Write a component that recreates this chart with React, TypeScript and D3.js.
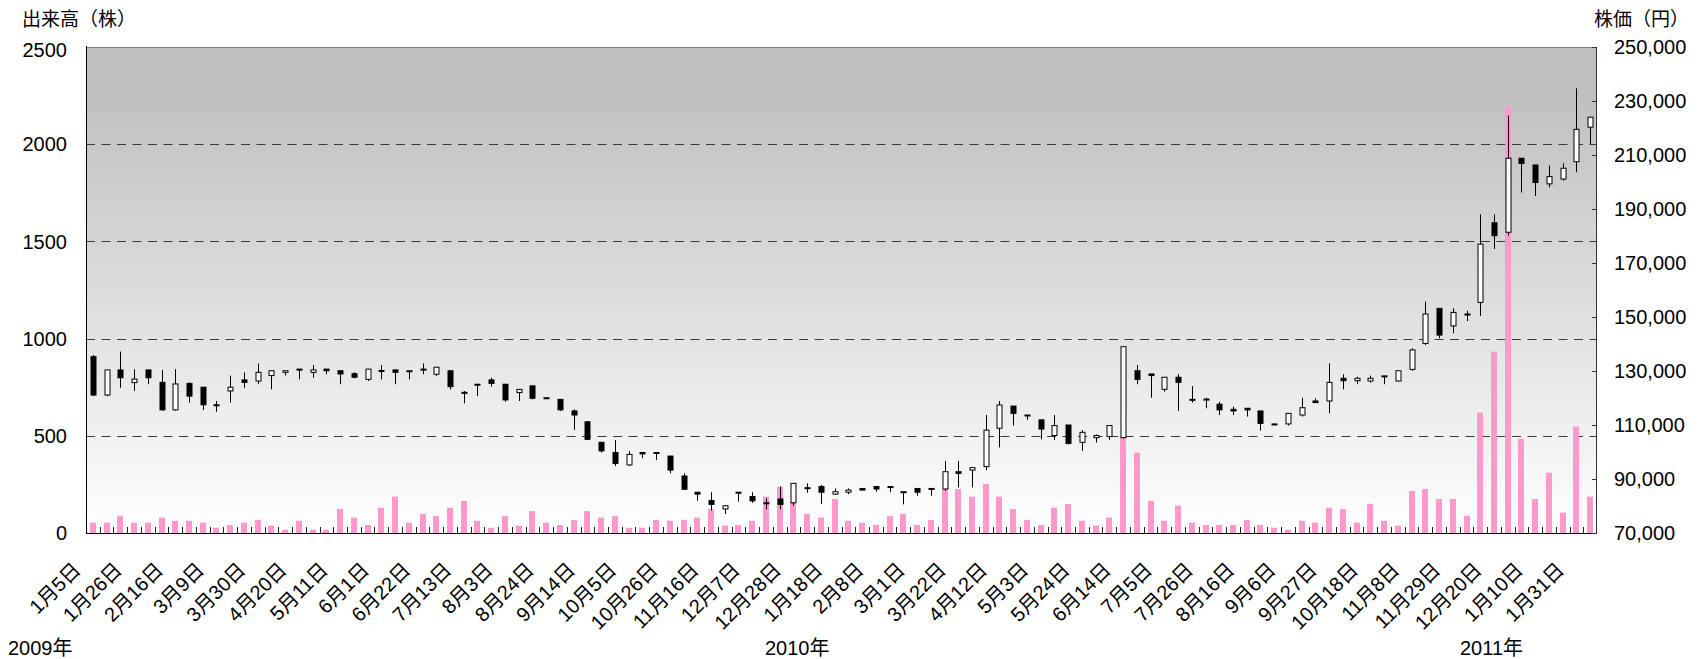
import React from "react";
import * as d3 from "d3";

// Weekly candles for the stock, 2009-01-05 .. 2011-02-07 (110 weeks)
const weekStarts: Date[] = d3.timeMonday.range(new Date(2009, 0, 5), new Date(2011, 1, 8));

const openPrices = [
  135300, 121100, 130400, 125700, 130400, 125800, 115600, 125400, 124000, 117500,
  122600, 126700, 126300, 128300, 129500, 130700, 129500, 130700, 130100, 129000,
  126900, 130100, 130400, 130100, 130700, 128800, 130100, 122100, 125100, 126700,
  125100, 122000, 124500, 120100, 119500, 115200, 111200, 103600, 99800, 95200,
  99800, 99800, 98500, 91100, 85100, 82000, 78900, 85100, 83500, 81200,
  82600, 81200, 86800, 87200, 84400, 85100, 86500, 87200, 87200, 85300,
  86500, 86500, 86300, 92700, 93300, 94600, 108800, 117000, 113700, 111900,
  106100, 110000, 103600, 105300, 105700, 105300, 130100, 128900, 123200, 127700,
  119500, 119600, 117700, 115800, 116200, 115200, 110400, 110400, 113700, 118900,
  118900, 127300, 126400, 126300, 128200, 126300, 130600, 140200, 153200, 146700,
  151100, 155400, 184900, 181400, 208800, 206300, 199300, 201100, 207500, 220300,
];
const highPrices = [
  135900, 130400, 137200, 130700, 130400, 130400, 130700, 125800, 124000, 118900,
  128300, 129500, 132800, 130100, 130100, 130700, 132200, 130700, 130100, 129500,
  130700, 132200, 130400, 130100, 132800, 131400, 130100, 122600, 125100, 127500,
  125100, 123200, 124500, 120100, 119500, 115800, 111200, 103600, 104400, 100400,
  99800, 99800, 98500, 92100, 85100, 85100, 80100, 85100, 85100, 82800,
  87200, 88400, 88400, 87800, 86500, 86500, 86500, 87200, 87200, 85300,
  86500, 86500, 96700, 96700, 94200, 113700, 118900, 117000, 113700, 111900,
  113700, 110000, 108100, 106500, 109800, 139000, 132200, 128900, 127700, 128900,
  124400, 120100, 118600, 116800, 116200, 115200, 110400, 114300, 120100, 119900,
  132800, 128800, 127900, 128300, 128200, 130100, 138400, 155700, 153200, 153200,
  152300, 188000, 188000, 224600, 208800, 206300, 206100, 206900, 234700, 224000,
];
const lowPrices = [
  120700, 120700, 123800, 122600, 125100, 115300, 115300, 118300, 115600, 114900,
  118300, 123800, 125100, 123200, 128300, 126900, 127500, 128800, 125100, 127300,
  126300, 126900, 125100, 126900, 128800, 128200, 123200, 118000, 120700, 124200,
  118600, 118900, 119500, 119600, 115200, 108200, 104400, 99800, 94800, 94800,
  97700, 97000, 92100, 85900, 81900, 78300, 77000, 81600, 81200, 78800,
  78800, 80100, 84900, 80700, 84100, 84400, 85900, 85300, 85100, 80600,
  83800, 83800, 85700, 86900, 86900, 93300, 101700, 109800, 111900, 104700,
  104400, 102800, 100400, 103500, 104400, 105100, 125100, 120100, 122300, 115200,
  118300, 116200, 113700, 113700, 113100, 107900, 110000, 109800, 113100, 118300,
  114300, 123200, 125100, 125700, 125100, 126100, 130100, 139600, 142100, 144000,
  148500, 150400, 175200, 180100, 196100, 194800, 198000, 200500, 203600, 214000,
];
const closePrices = [
  121100, 130400, 127500, 127000, 127500, 115600, 125200, 120700, 117500, 117200,
  124000, 125800, 129500, 130100, 130100, 130700, 130400, 130100, 128900, 127700,
  130700, 130200, 129500, 130100, 130700, 131400, 124200, 122100, 125100, 125400,
  119300, 123200, 119900, 120100, 115600, 113700, 104700, 100400, 95800, 99100,
  99300, 99800, 93300, 86200, 84400, 80600, 80100, 85100, 81900, 81200,
  80600, 88400, 86800, 85100, 85300, 85900, 85900, 86300, 87200, 85300,
  85100, 86500, 92700, 92100, 94200, 108100, 117400, 114300, 113700, 108500,
  109800, 103200, 107300, 106100, 109800, 139000, 126900, 128300, 127700, 125800,
  119500, 119600, 115600, 115200, 115600, 110600, 110400, 114300, 116400, 118300,
  125800, 126400, 127300, 127300, 128200, 130100, 137800, 151100, 143300, 151700,
  151100, 177000, 180100, 208800, 206900, 199800, 202000, 205100, 219500, 224000,
];
const volumes = [
  53, 53, 87, 53, 53, 79, 63, 63, 53, 27,
  41, 53, 67, 38, 17, 63, 17, 17, 123, 79,
  41, 130, 187, 53, 98, 87, 130, 165, 63, 27,
  87, 38, 113, 53, 41, 67, 113, 79, 87, 27,
  27, 67, 63, 67, 79, 123, 38, 41, 63, 187,
  238, 156, 98, 79, 175, 63, 53, 41, 87, 98,
  41, 67, 226, 226, 187, 252, 187, 123, 67, 41,
  130, 149, 63, 38, 79, 495, 413, 165, 63, 141,
  53, 41, 41, 41, 67, 41, 27, 17, 63, 53,
  130, 123, 53, 149, 63, 38, 216, 226, 175, 175,
  89, 619, 933, 2193, 484, 175, 310, 105, 547, 187,
];

// Every third week carries a date label
const tickLabels = [
  "1月5日", "1月26日", "2月16日", "3月9日", "3月30日", "4月20日", "5月11日", "6月1日",
  "6月22日", "7月13日", "8月3日", "8月24日", "9月14日", "10月5日", "10月26日", "11月16日",
  "12月7日", "12月28日", "1月18日", "2月8日", "3月1日", "3月22日", "4月12日", "5月3日",
  "5月24日", "6月14日", "7月5日", "7月26日", "8月16日", "9月6日", "9月27日", "10月18日",
  "11月8日", "11月29日", "12月20日", "1月10日", "1月31日",
];
const volumeTicks = [0, 500, 1000, 1500, 2000, 2500];
const priceTicks = [70000, 90000, 110000, 130000, 150000, 170000, 190000, 210000, 230000, 250000];
const yearLabels = ["2009年", "2010年", "2011年"];

const W = 1707;
const H = 659;
const plot = { left: 86, right: 1597, top: 47, bottom: 533 };
const FONT = "'Liberation Sans', Arial, 'Noto Sans CJK JP', sans-serif";

export default function App() {
  const n = openPrices.length;
  const x = d3
    .scaleBand<number>()
    .domain(d3.range(n))
    .range([plot.left, plot.right])
    .padding(0);
  const step = x.step();
  const cx = (i: number) => (x(i) as number) + step / 2;
  const yVol = d3.scaleLinear().domain([0, 2500]).range([plot.bottom, plot.top]);
  const yPrice = d3.scaleLinear().domain([70000, 250000]).range([plot.bottom, plot.top]);

  const barW = 6;
  const bodyW = 5;
  const yearX = [8, 765, 1460];

  return (
    <svg
      width={W}
      height={H}
      style={{ position: "absolute", left: 0, top: 0, display: "block", background: "#ffffff" }}
      fontFamily={FONT}
    >
      <defs>
        <linearGradient id="plotBg" x1="0" y1="0" x2="0" y2="1">
          <stop offset="0" stopColor="#c0c0c0" />
          <stop offset="0.1" stopColor="#c0c0c0" />
          <stop offset="1" stopColor="#ffffff" />
        </linearGradient>
      </defs>

      {/* plot background */}
      <rect
        x={plot.left}
        y={plot.top}
        width={plot.right - plot.left}
        height={plot.bottom - plot.top}
        fill="url(#plotBg)"
      />

      {/* dashed volume gridlines */}
      {volumeTicks
        .filter((v) => v > 0 && v < 2500)
        .map((v) => (
          <line
            key={"g" + v}
            x1={plot.left}
            x2={plot.right}
            y1={Math.round(yVol(v)) + 0.5}
            y2={Math.round(yVol(v)) + 0.5}
            stroke="#3a3a3a"
            strokeWidth={1}
            strokeDasharray="9,6.5"
          />
        ))}

      {/* volume bars */}
      {volumes.map((v, i) => (
        <rect
          key={"v" + i}
          x={Math.round(cx(i) - barW / 2)}
          y={yVol(v)}
          width={barW}
          height={plot.bottom - yVol(v)}
          fill="#ff99cc"
        />
      ))}

      {/* candles */}
      {openPrices.map((o, i) => {
        const c = closePrices[i];
        const up = c >= o;
        const xc = Math.round(cx(i)) + 0.5;
        const yTop = yPrice(Math.max(o, c));
        const yBot = yPrice(Math.min(o, c));
        const h = Math.max(1, yBot - yTop);
        return (
          <g key={"c" + i}>
            <line
              x1={xc}
              x2={xc}
              y1={yPrice(highPrices[i])}
              y2={yPrice(lowPrices[i])}
              stroke="#000"
              strokeWidth={1}
            />
            <rect
              x={xc - bodyW / 2}
              y={yTop}
              width={bodyW}
              height={h}
              fill={up ? "#ffffff" : "#000000"}
              stroke="#000"
              strokeWidth={1}
            />
          </g>
        );
      })}

      {/* frame */}
      <line x1={plot.left} x2={plot.right} y1={plot.top + 0.5} y2={plot.top + 0.5} stroke="#808080" />
      <line x1={plot.right - 0.5} x2={plot.right - 0.5} y1={plot.top} y2={plot.bottom} stroke="#333" />
      <line x1={plot.left + 0.5} x2={plot.left + 0.5} y1={plot.top - 1} y2={plot.bottom} stroke="#000" />
      <line x1={plot.left} x2={plot.right} y1={plot.bottom + 0.5} y2={plot.bottom + 0.5} stroke="#000" />

      {/* category ticks between weeks */}
      {d3.range(1, n).map((i) => (
        <line
          key={"t" + i}
          x1={Math.round(x(i) as number) + 0.5}
          x2={Math.round(x(i) as number) + 0.5}
          y1={plot.bottom - 6}
          y2={plot.bottom}
          stroke="#222"
        />
      ))}

      {/* right price ticks */}
      {priceTicks.map((p) => (
        <line
          key={"pt" + p}
          x1={plot.right - 5}
          x2={plot.right}
          y1={Math.round(yPrice(p)) + 0.5}
          y2={Math.round(yPrice(p)) + 0.5}
          stroke="#333"
        />
      ))}

      {/* left axis labels */}
      {volumeTicks.map((v) => (
        <text
          key={"vl" + v}
          x={67}
          y={yVol(v) + (v === 2500 ? 3 : 0)}
          dy="0.36em"
          textAnchor="end"
          fontSize={20}
          fill="#000"
        >
          {v}
        </text>
      ))}

      {/* right axis labels */}
      {priceTicks.map((p) => (
        <text key={"pl" + p} x={1614} y={yPrice(p)} dy="0.36em" textAnchor="start" fontSize={20} fill="#000">
          {d3.format(",")(p)}
        </text>
      ))}

      {/* axis titles */}
      <text x={22} y={26} fontSize={19} fill="#000">
        出来高（株）
      </text>
      <text x={1594} y={26} fontSize={19} fill="#000">
        株価（円）
      </text>

      {/* date labels */}
      {tickLabels.map((t, k) => {
        const i = k * 3;
        const ax = cx(i) - 11;
        const ay = 571;
        return (
          <text
            key={"xl" + k}
            transform={`translate(${ax},${ay}) rotate(-45)`}
            textAnchor="end"
            fontSize={20}
            fill="#000"
          >
            {t}
          </text>
        );
      })}

      {/* year labels */}
      {yearLabels.map((t, k) => (
        <text key={"y" + k} x={yearX[k]} y={655} fontSize={20} fill="#000">
          {t}
        </text>
      ))}
    </svg>
  );
}
